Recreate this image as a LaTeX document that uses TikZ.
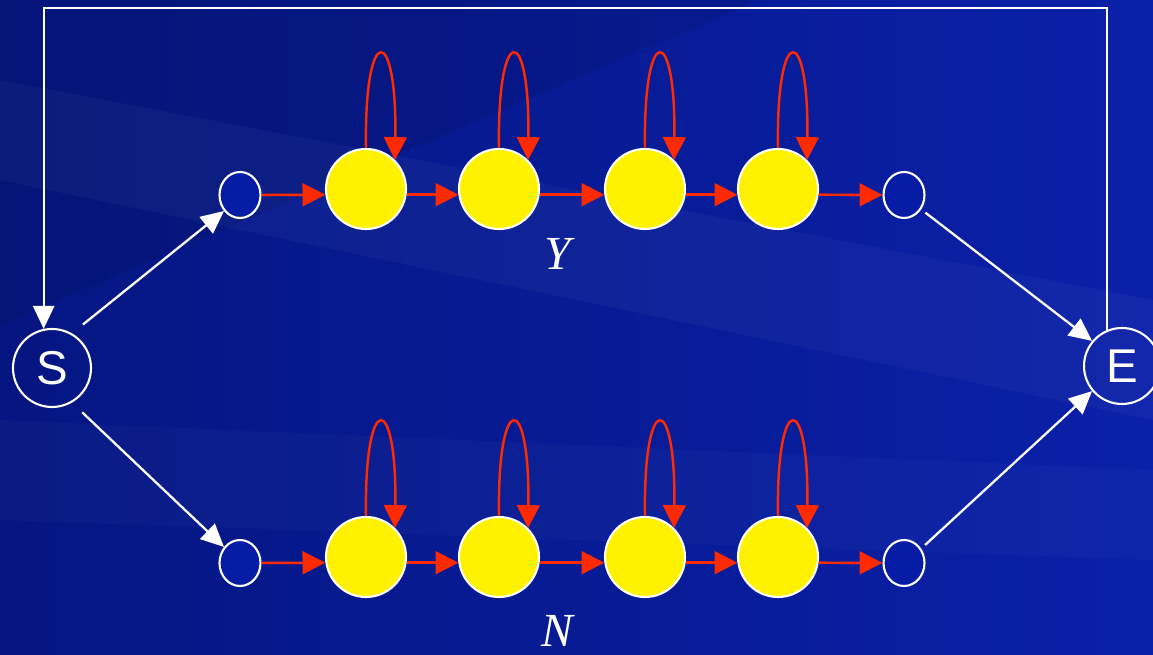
\documentclass[tikz,border=0pt]{standalone}
\usepackage{tikz}
\usetikzlibrary{positioning, arrows.meta, shapes.geometric}
\usepackage{fontspec}
\setmainfont{Liberation Serif}
\newfontfamily\arialfont{Liberation Sans}
\usepackage{xcolor}
\definecolor{bgdark}{RGB}{5,22,130}
\definecolor{bglight}{RGB}{10,32,168}
\definecolor{loopred}{RGB}{255,42,0}
\definecolor{gapblue}{RGB}{6,28,165}

\begin{document}
\begin{tikzpicture}[x=0.02cm, y=0.02cm,
    endstate/.style={circle, draw=white, line width=1.2pt, minimum size=1.56cm, inner sep=0pt, text=white, font=\arialfont\fontsize{27}{30}\selectfont},
    gapstate/.style={ellipse, draw=white, fill=gapblue, line width=1.2pt, minimum width=0.82cm, minimum height=0.92cm, inner sep=0pt},
    emitstate/.style={circle, draw=white, fill=yellow, line width=1.2pt, minimum size=1.6cm, inner sep=0pt},
    redarrow/.style={draw=loopred, line width=1.4pt, -{Triangle[length=13pt,width=13pt]}},
    whitearrow/.style={draw=white, line width=1.3pt, -{Triangle[length=13pt,width=12pt]}},
    rowlabel/.style={text=white, font=\itshape\fontsize{27}{30}\selectfont}]

    % Background
    \useasboundingbox (0,0) rectangle (1153,655);
    \shade[left color=bgdark, right color=bglight] (0,0) rectangle (1153,655);
    \fill[black, opacity=0.08] (0,655) -- (760,655) -- (0,330) -- cycle;
    \fill[white, opacity=0.035] (0,575) -- (0,475) -- (1153,235) -- (1153,355) -- cycle;
    \fill[white, opacity=0.025] (0,235) -- (0,135) -- (1153,95) -- (1153,185) -- cycle;

    % Start and end states
    \node[endstate] (S) at (52,287) {S};
    \node[endstate, minimum size=1.52cm] (E) at (1122,289) {E};

    % Upper row (Y)
    \node[gapstate] (ty0) at (240,460) {};
    \node[emitstate] (ty1) at (366,466) {};
    \node[emitstate] (ty2) at (499,466) {};
    \node[emitstate] (ty3) at (645,466) {};
    \node[emitstate] (ty4) at (778,466) {};
    \node[gapstate] (ty5) at (904,460) {};

    % Lower row (N)
    \node[gapstate] (bn0) at (240,92) {};
    \node[emitstate] (bn1) at (366,98) {};
    \node[emitstate] (bn2) at (499,98) {};
    \node[emitstate] (bn3) at (645,98) {};
    \node[emitstate] (bn4) at (778,98) {};
    \node[gapstate] (bn5) at (904,92) {};

    % Row labels
    \node[rowlabel] (ylab) at (558,401) {Y};
    \node[rowlabel] (nlab) at (557,24) {N};

    % Transitions along each row
    \foreach \r in {ty,bn} {
        \draw[redarrow] (\r0) -- (\r1.188.6);
        \foreach \a/\b in {1/2,2/3,3/4}
            \draw[redarrow] (\r\a.-8.6) -- (\r\b.188.6);
        \draw[redarrow] (\r4.-8.6) -- (\r5);
        % Self loops
        \foreach \a in {1,2,3,4}
            \draw[redarrow] (\r\a.north) .. controls +(-2,126) and +(2,138) .. (\r\a.45);
    }

    % Branches from S and into E
    \draw[whitearrow, shorten <=8pt] (S.60) -- (ty0.225);
    \draw[whitearrow, shorten <=8pt] (S.-60) -- (bn0.135);
    \draw[whitearrow, shorten <=3pt] (ty5.-40) -- (E.140);
    \draw[whitearrow, shorten <=3pt] (bn5.40) -- (E.220);

    % Return path over the top
    \coordinate (ftop) at (576,647);
    \draw[whitearrow] (E.113) |- (ftop) -| (S.102);
\end{tikzpicture}
\end{document}
